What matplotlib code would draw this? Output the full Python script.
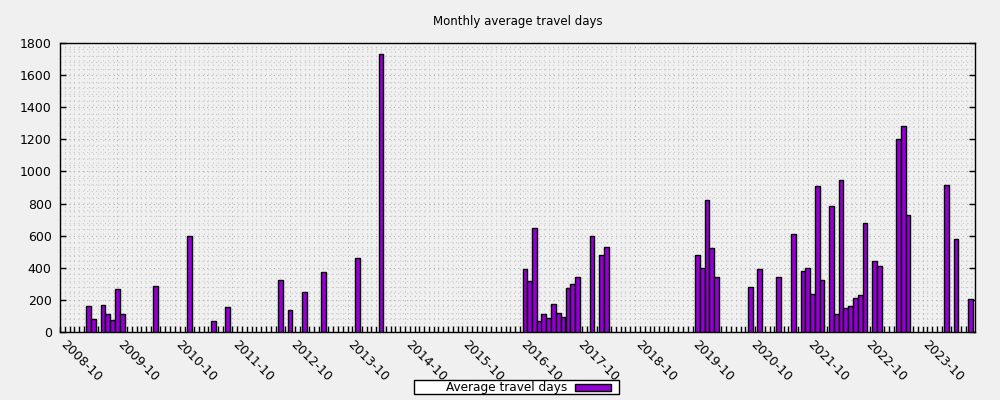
import matplotlib
matplotlib.use("Agg")
import matplotlib.pyplot as plt
import matplotlib.dates as mdates
from matplotlib.ticker import MultipleLocator
from matplotlib.patches import Rectangle
from datetime import datetime

months = ['2009-04', '2009-05', '2009-07', '2009-08', '2009-09', '2009-10', '2009-11',
          '2010-06', '2011-01', '2011-06', '2011-09', '2012-08', '2012-10', '2013-01',
          '2013-05', '2013-12', '2014-05', '2016-11', '2016-12', '2017-01', '2017-02',
          '2017-03', '2017-04', '2017-05', '2017-06', '2017-07', '2017-08', '2017-09',
          '2017-10', '2018-01', '2018-03', '2018-04', '2019-11', '2019-12', '2020-01',
          '2020-02', '2020-03', '2020-10', '2020-12', '2021-04', '2021-07', '2021-09',
          '2021-10', '2021-11', '2021-12', '2022-01', '2022-03', '2022-04', '2022-05',
          '2022-06', '2022-07', '2022-08', '2022-09', '2022-10', '2022-12', '2023-01',
          '2023-05', '2023-06', '2023-07', '2024-03', '2024-05', '2024-08']
values = [160, 80, 170, 110, 75, 270, 115,
          285, 600, 70, 155, 325, 140, 250,
          375, 460, 1730, 395, 315, 650, 70,
          110, 90, 175, 120, 95, 275, 300,
          340, 600, 480, 530, 480, 400, 825,
          525, 340, 280, 395, 345, 610, 380,
          400, 235, 910, 325, 785, 110, 945,
          150, 160, 210, 230, 680, 440, 410,
          1200, 1280, 730, 915, 580, 205]

x_tick_labels = ['2008-10', '2009-10', '2010-10', '2011-10', '2012-10', '2013-10',
                 '2014-10', '2015-10', '2016-10', '2017-10', '2018-10', '2019-10',
                 '2020-10', '2021-10', '2022-10', '2023-10']
y_ticks = [0, 200, 400, 600, 800, 1000, 1200, 1400, 1600, 1800]

title = "Monthly average travel days"
series_name = "Average travel days"
x_start = "2008-10-01"
x_end = "2024-08-29"

BG = "#f0f0f0"
BAR = "#9400d3"

W, H = 1000, 400


def month_date(s):
    return datetime.strptime(s + "-01", "%Y-%m-%d")


dates = [month_date(m) for m in months]

fig = plt.figure(figsize=(10, 4), dpi=100, facecolor=BG)
ax = fig.add_axes([0.06, 0.17, 0.915, 0.7225])
ax.set_facecolor(BG)

ax.bar(dates, values, width=30.4, align="center", color=BAR,
       edgecolor="black", linewidth=1.0, zorder=3)

ax.set_xlim(datetime.strptime(x_start, "%Y-%m-%d"), datetime.strptime(x_end, "%Y-%m-%d"))
ax.set_ylim(y_ticks[0], y_ticks[-1])

ax.xaxis.set_minor_locator(mdates.MonthLocator())
ax.set_xticks([month_date(t) for t in x_tick_labels])
ax.set_xticklabels(x_tick_labels, rotation=-45, ha="left", va="baseline",
                   rotation_mode="anchor", fontsize=9)
ax.set_yticks(y_ticks)
ax.set_yticklabels([str(v) for v in y_ticks], fontsize=9)
ax.yaxis.set_minor_locator(MultipleLocator(40))

ax.grid(which="major", color="#b0b0b0", linestyle=(0, (1, 3)), linewidth=0.8, zorder=0)
ax.grid(which="minor", color="#c8c8c8", linestyle=(0, (1, 3)), linewidth=0.8, zorder=0)

ax.tick_params(axis="x", which="major", direction="in", length=4, width=1, top=False, pad=9.4)
ax.tick_params(axis="x", which="minor", direction="in", length=4, width=1, top=False)
ax.tick_params(axis="y", which="major", direction="in", length=4, width=1, right=True, pad=6)
ax.tick_params(axis="y", which="minor", length=0)

for sp in ax.spines.values():
    sp.set_linewidth(1.0)
    sp.set_color("black")

fig.text(0.5175, 1 - 22 / H, title, ha="center", va="center", fontsize=8.5)

# key box (gnuplot-style, text then sample)
fig.patches.append(Rectangle((414 / W, 1 - 394 / H), 205 / W, 14 / H,
                             transform=fig.transFigure, facecolor="white",
                             edgecolor="black", linewidth=1.0))
fig.text(567 / W, 1 - 387 / H, series_name, ha="right", va="center", fontsize=8.7)
fig.patches.append(Rectangle((575 / W, 1 - 391 / H), 36 / W, 7.5 / H,
                             transform=fig.transFigure, facecolor=BAR,
                             edgecolor="black", linewidth=1.0))

fig.savefig("out.png", dpi=100, facecolor=BG)
